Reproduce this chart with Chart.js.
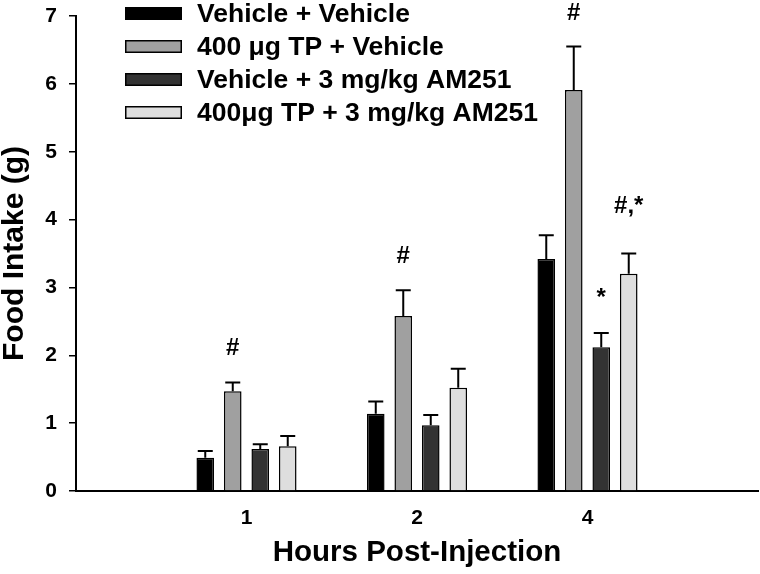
<!DOCTYPE html>
<html>
<head>
<meta charset="utf-8">
<script src="https://cdn.jsdelivr.net/npm/chart.js@4"></script>
<style>
  html, body { margin: 0; padding: 0; background: #fff; }
  #wrap { width: 760px; height: 574px; }
</style>
</head>
<body>
<div id="wrap"><canvas id="c" width="760" height="574"></canvas></div>
<script>
// ---- data ----
const categories = ['', '1', '2', '4', ''];
const seriesNames = ['Vehicle + Vehicle', '400 \u03bcg TP + Vehicle', 'Vehicle + 3 mg/kg AM251', '400\u03bcg TP + 3 mg/kg AM251'];
const vehVeh = [null, 0.49, 1.14, 3.42, null];
const tpVeh  = [null, 1.47, 2.58, 5.91, null];
const vehAm  = [null, 0.62, 0.97, 2.12, null];
const tpAm   = [null, 0.66, 1.52, 3.20, null];
const vehVehErr = [null, 0.10, 0.18, 0.35, null];
const tpVehErr  = [null, 0.13, 0.38, 0.64, null];
const vehAmErr  = [null, 0.07, 0.15, 0.21, null];
const tpAmErr   = [null, 0.15, 0.28, 0.30, null];
const yTicks = [0, 1, 2, 3, 4, 5, 6, 7];
const annotSeries = [1, 1, 1, 2, 3];
const annotIndex  = [1, 2, 3, 3, 3];
const annotText   = ['#', '#', '#', '*', '#,*'];

// ---- styles ----
const FONT = "'Liberation Sans', Arial, sans-serif";
const colors = ['#000000', '#a0a0a0', '#333333', '#dedede'];
const values = [vehVeh, tpVeh, vehAm, tpAm];
const errors = [vehVehErr, tpVehErr, vehAmErr, tpAmErr];
const annotGap = { '#': 27, '*': 28, '#,*': 41 };

const datasets = values.map((v, i) => ({
  label: seriesNames[i],
  data: v,
  errors: errors[i],
  backgroundColor: colors[i],
  borderColor: '#000',
  borderWidth: 1.5,
  barPercentage: 0.64,
  categoryPercentage: 0.645
}));

const errorBarPlugin = {
  id: 'errorBars',
  afterDatasetsDraw(chart) {
    const ctx = chart.ctx;
    const y = chart.scales.y;
    ctx.save();
    ctx.strokeStyle = '#000';
    ctx.lineWidth = 2;
    chart.data.datasets.forEach((ds, di) => {
      const meta = chart.getDatasetMeta(di);
      meta.data.forEach((el, i) => {
        const v = ds.data[i], e = ds.errors[i];
        if (v == null || e == null) return;
        const yTop = y.getPixelForValue(v + e);
        ctx.beginPath();
        ctx.moveTo(el.x, el.y);
        ctx.lineTo(el.x, yTop);
        ctx.moveTo(el.x - 7.5, yTop);
        ctx.lineTo(el.x + 7.5, yTop);
        ctx.stroke();
      });
    });
    ctx.fillStyle = '#000';
    ctx.font = 'bold 24px ' + FONT;
    ctx.textAlign = 'center';
    ctx.textBaseline = 'alphabetic';
    annotText.forEach((t, k) => {
      const di = annotSeries[k], i = annotIndex[k];
      const ds = chart.data.datasets[di];
      const el = chart.getDatasetMeta(di).data[i];
      const yTop = y.getPixelForValue(ds.data[i] + ds.errors[i]);
      ctx.fillText(t, el.x, yTop - annotGap[t]);
    });
    ctx.restore();
  }
};

const legendPlugin = {
  id: 'innerLegend',
  afterDraw(chart) {
    const ctx = chart.ctx;
    ctx.save();
    ctx.font = 'bold 26.5px ' + FONT;
    ctx.textBaseline = 'middle';
    ctx.textAlign = 'left';
    chart.data.datasets.forEach((ds, i) => {
      const cy = 13.5 + i * 33;
      ctx.fillStyle = ds.backgroundColor;
      ctx.fillRect(125, cy - 6.5, 57, 13);
      ctx.strokeStyle = '#000';
      ctx.lineWidth = 1.5;
      ctx.strokeRect(125.75, cy - 5.75, 55.5, 11.5);
      ctx.fillStyle = '#000';
      ctx.fillText(ds.label, 197, cy + 1);
    });
    ctx.restore();
  }
};

new Chart(document.getElementById('c'), {
  type: 'bar',
  data: { labels: categories, datasets },
  options: {
    responsive: false,
    animation: false,
    devicePixelRatio: 1,
    layout: { padding: { top: 16, right: 2, left: 0, bottom: 0 } },
    plugins: { legend: { display: false }, tooltip: { enabled: false } },
    scales: {
      x: {
        type: 'category',
        offset: false,
        grid: { display: false, drawTicks: false },
        border: { display: true, color: '#000', width: 2 },
        ticks: { autoSkip: false, maxRotation: 0, color: '#000', padding: 15,
                 font: { family: FONT, size: 21, weight: 'bold' } },
        title: { display: true, text: 'Hours Post-Injection', color: '#000',
                 font: { family: FONT, size: 29.5, weight: 'bold', lineHeight: 1.2 },
                 padding: { top: 0, bottom: 3 } },
        afterFit(s) { s.height = 83; s.paddingLeft = 0; s.paddingRight = 0; }
      },
      y: {
        min: 0, max: 7,
        afterBuildTicks(s) { s.ticks = yTicks.map(v => ({ value: v })); },
        grid: { display: true, drawOnChartArea: false, drawTicks: true, tickLength: 7, color: '#000', lineWidth: 1.5 },
        border: { display: true, color: '#000', width: 2 },
        ticks: { color: '#000', padding: 12, font: { family: FONT, size: 21, weight: 'bold' } },
        title: { display: true, text: 'Food Intake (g)', color: '#000',
                 font: { family: FONT, size: 30, weight: 'bold', lineHeight: 1.0 },
                 padding: { top: 0, bottom: 0 } },
        afterFit(s) { s.width = 76; s.paddingTop = 0; s.paddingBottom = 0; }
      }
    }
  },
  plugins: [errorBarPlugin, legendPlugin]
});
</script>
</body>
</html>
